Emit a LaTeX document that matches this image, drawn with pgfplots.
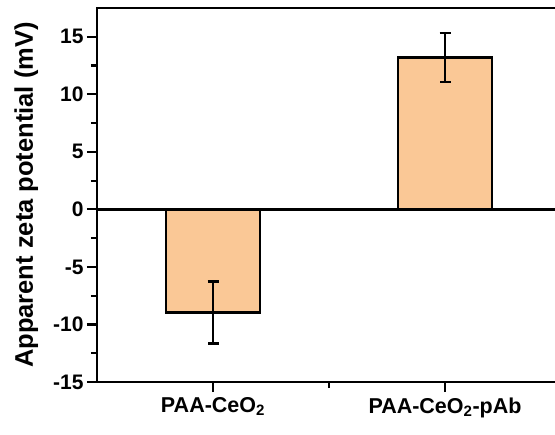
\documentclass[border=0pt]{standalone}
\usepackage{pgfplots}
\pgfplotsset{compat=1.18}
\usepackage{fontspec}
\setmainfont{Liberation Sans}
\definecolor{barfill}{RGB}{250,200,150}
\begin{document}
\begin{tikzpicture}
\begin{axis}[
  scale only axis,
  width=464pt, height=374pt,
  xmin=-0.5, xmax=1.5,
  ymin=-15, ymax=17.5,
  axis line style={line width=2.6pt},
  xtick={0,1}, xticklabels={PAA-CeO\textsubscript{2}, PAA-CeO\textsubscript{2}-pAb},
  minor xtick={0.5},
  ytick={-15,-10,-5,0,5,10,15},
  minor ytick={-12.5,-7.5,-2.5,2.5,7.5,12.5},
  tick align=outside,
  xtick pos=bottom, ytick pos=left,
  major tick length=10pt, minor tick length=6pt,
  tick style={line width=2.2pt, black},
  yticklabel style={font=\fontsize{21}{23}\selectfont\bfseries},
  xticklabel style={font=\fontsize{21.5}{23}\selectfont\bfseries, yshift=-2pt},
  /pgf/number format/assume math mode=true,
  ylabel={Apparent zeta potential (mV)},
  ylabel style={font=\fontsize{25.5}{27}\selectfont\bfseries, yshift=8pt},
  clip=false,
]
\addplot[ybar, bar width=94pt, fill=barfill, draw=black, line width=2.4pt,
  error bars/.cd, y dir=both, y explicit,
  error bar style={line width=2.4pt}, error mark options={rotate=90, mark size=5.5pt, line width=2.4pt}]
  coordinates {(0,-8.95) +- (0,2.7) (1,13.2) +- (0,2.13)};
\draw[line width=2.4pt] (axis cs:-0.5,0) -- (axis cs:1.5,0);
\end{axis}
\pgfresetboundingbox
\path[use as bounding box] ([xshift=-97pt,yshift=-52pt]current axis.south west) rectangle ([xshift=-6pt,yshift=8pt]current axis.north east);
\end{tikzpicture}
\end{document}
